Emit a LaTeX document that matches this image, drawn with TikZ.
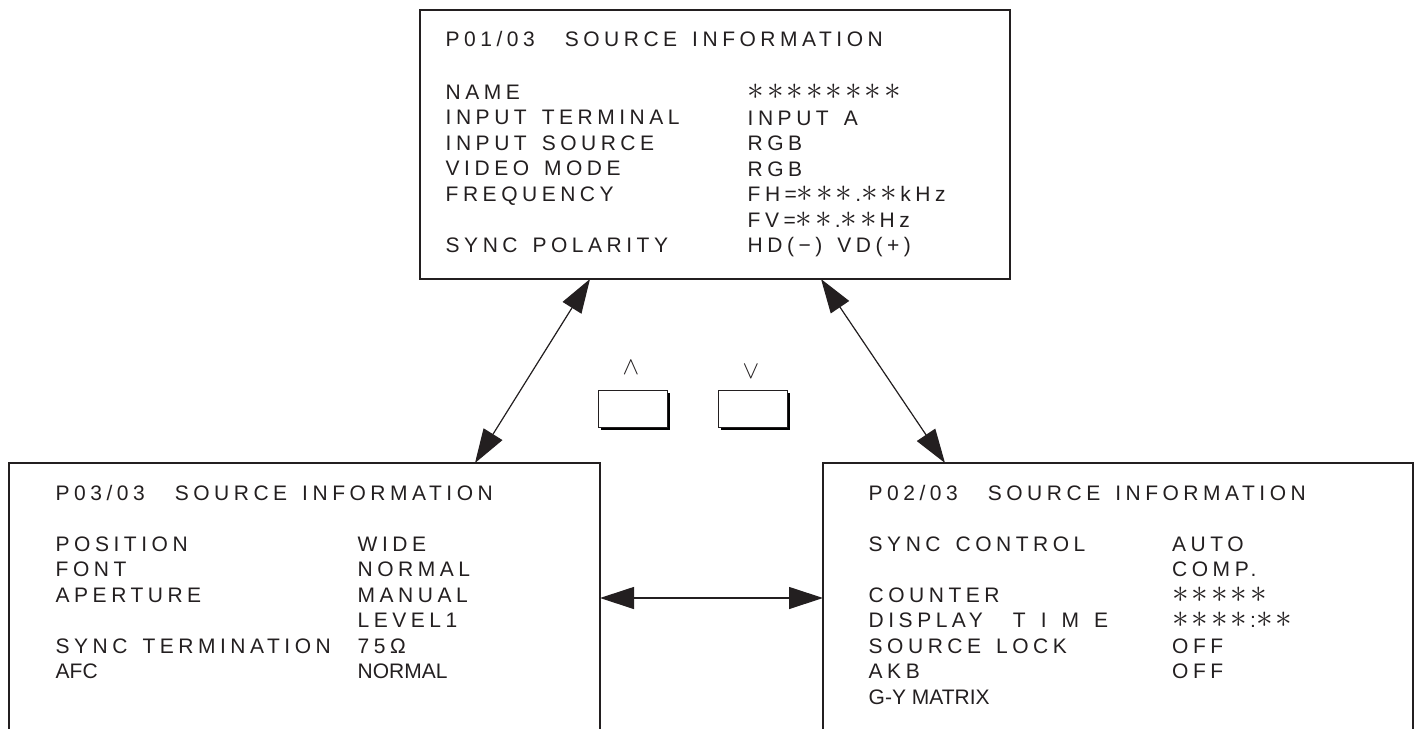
\documentclass[tikz,border=0pt]{standalone}
\usepackage{fontspec}
\usepackage{graphicx}
\setmainfont{Liberation Sans}
\newfontfamily\spcfont{Liberation Sans}[LetterSpace=21.5, WordSpace=1.45]
\newfontfamily\nrmfont{Liberation Sans}
\usetikzlibrary{arrows.meta,shadows,positioning}
\definecolor{ink}{HTML}{231F20}
\newcommand{\sk}{\makebox[19.5pt][l]{\smash{\scalebox{1.6}{$\ast$}}}}
\newcommand{\capht}{\rule{0pt}{15.04pt}}
\begin{document}
\begin{tikzpicture}[
  x=1pt, y=-1pt,
  screen/.style={draw=ink, line width=2.6pt, outer sep=0pt, inner sep=0pt},
  col/.style={inner sep=0pt, anchor=north west, align=left, text=ink,
    font=\spcfont\fontsize{21}{25.5}\selectfont},
  key/.style={draw=ink, line width=1pt, fill=white, minimum width=69pt, minimum height=37pt,
    inner sep=0pt, drop shadow={shadow xshift=3pt, shadow yshift=-3pt, fill=black, opacity=1}},
  sign/.style={inner sep=0pt, text=ink, font=\fontsize{26}{26}\selectfont},
  link/.style={{Triangle[length=34pt,width=22pt]}-{Triangle[length=34pt,width=22pt]},
    draw=ink, fill=ink, line width=1.2pt},
]
  \useasboundingbox (0,0) rectangle (1418,728);

  \node[screen, minimum width=590pt, minimum height=269pt] (scr1) at (715,144.5) {};
  \node[screen, minimum width=591pt, minimum height=297pt] (scr3) at (304.5,611.5) {};
  \node[screen, minimum width=590pt, minimum height=297pt] (scr2) at (1118,611.5) {};

  \node[col] (ttl1) at (445.5,31.5) {P01/03\ \ SOURCE INFORMATION};
  \node[col] (lab1) at (445.5,84.5) {NAME\\INPUT TERMINAL\\INPUT SOURCE\\VIDEO MODE\\FREQUENCY\\[25.5pt]SYNC POLARITY};
  \node[col] (val1) at (747.5,84.5) {\capht\sk\sk\sk\sk\sk\sk\sk\sk\\INPUT A\\RGB\\RGB\\FH=\sk\sk\sk.\sk\sk kHz\\FV=\sk\sk.\sk\sk Hz\\HD(−) VD(+)};

  \node[col] (ttl3) at (55.5,485.5) {P03/03\ \ SOURCE INFORMATION};
  \node[col] (lab3) at (55.5,536.5) {POSITION\\FONT\\APERTURE\\[25.5pt]SYNC TERMINATION\\{\nrmfont AFC}};
  \node[col] (val3) at (357.5,536.5) {WIDE\\NORMAL\\MANUAL\\LEVEL1\\75Ω\\{\nrmfont NORMAL}};

  \node[col] (ttl2) at (868.5,485.5) {P02/03\ \ SOURCE INFORMATION};
  \node[col] (lab2) at (868.5,536.5) {SYNC CONTROL\\[25.5pt]COUNTER\\DISPLAY\ \ T I M E\\SOURCE LOCK\\AKB\\{\nrmfont G-Y MATRIX}};
  \node[col] (val2) at (1172,536.5) {AUTO\\COMP.\\\capht\sk\sk\sk\sk\sk\\\capht\sk\sk\sk\sk:\sk\sk\\OFF\\OFF};

  \node[key] (up)   at (632.5,408.5) {};
  \node[key] (down) at (752.5,408.5) {};
  \node[sign] (upsign)   at (631,368) {$\wedge$};
  \node[sign] (downsign) at (751,372) {$\vee$};

  \coordinate (swap) at (711,598);
  \draw[link] ([xshift=170pt]scr1.south west) -- ([xshift=466pt]scr3.north west);
  \draw[link] ([xshift=401pt]scr1.south west) -- ([xshift=122pt]scr2.north west);
  \draw[link] (scr3.east |- swap) -- (scr2.west |- swap);
\end{tikzpicture}
\end{document}
